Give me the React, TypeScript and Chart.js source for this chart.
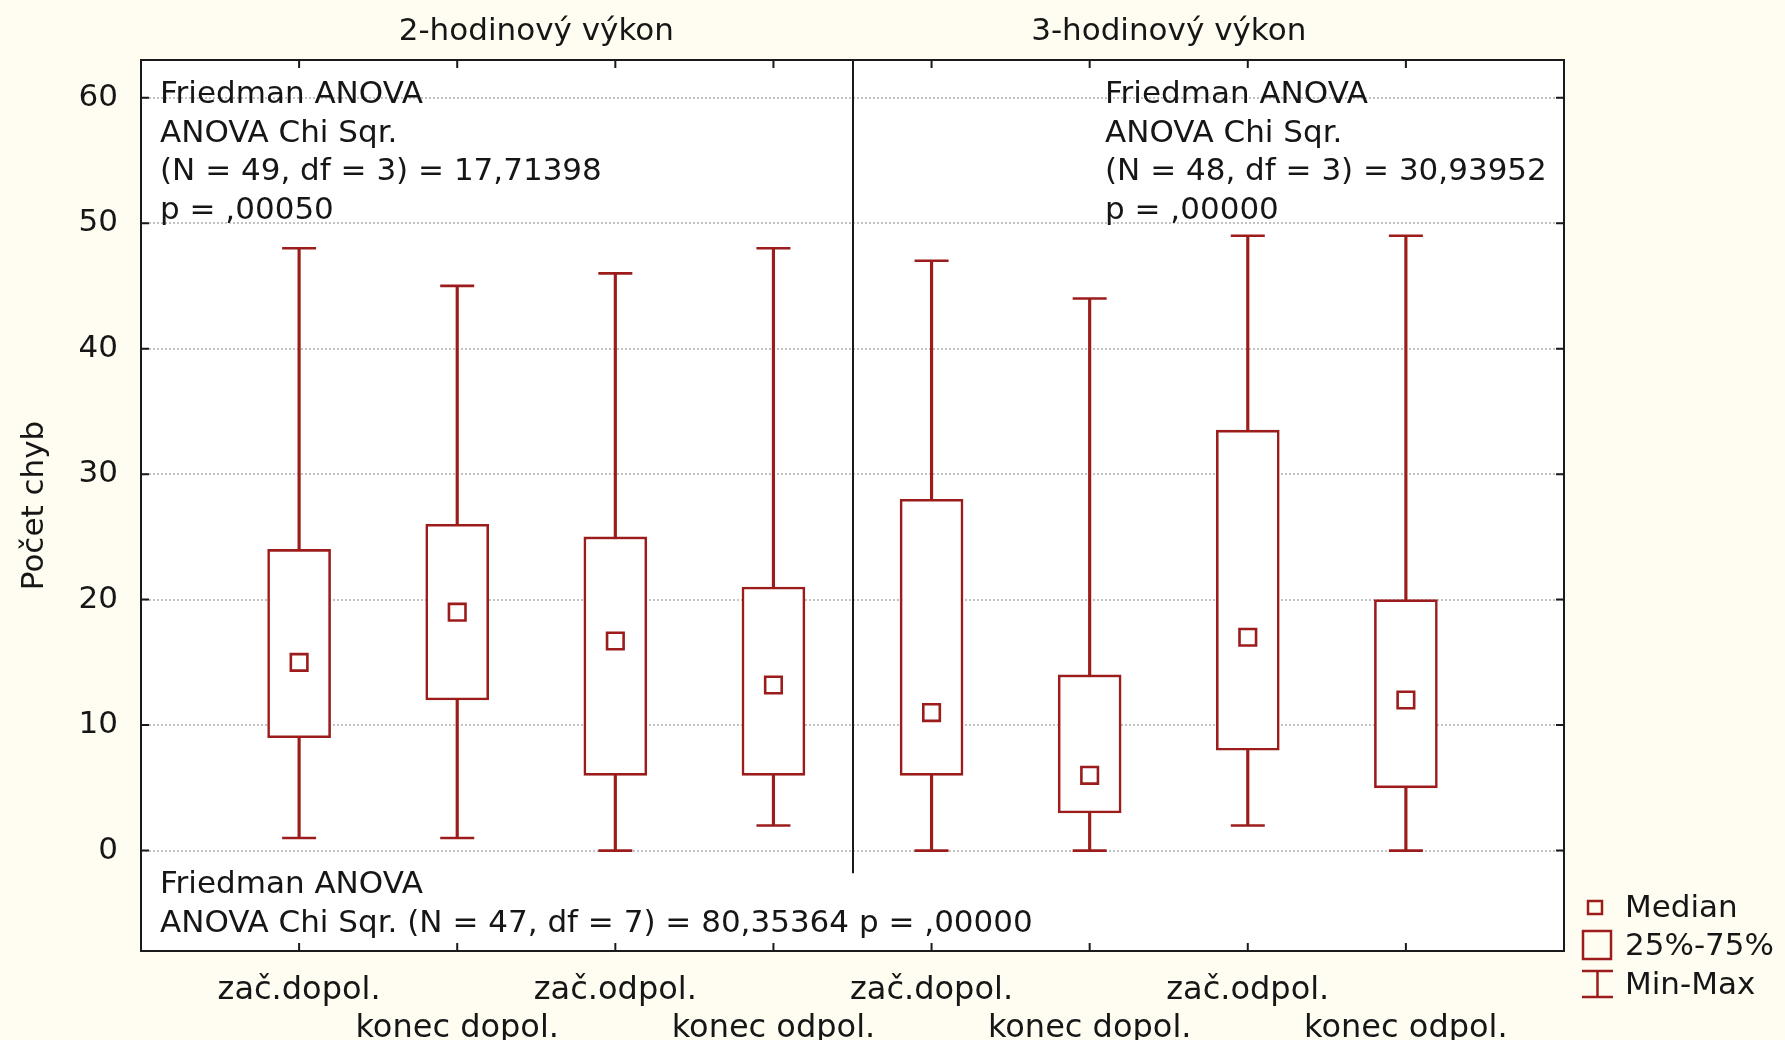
import React, { useEffect, useRef } from 'react';
import { Chart, registerables } from 'chart.js';

Chart.register(...registerables);

// ---- data ----
const categories = ['zač.dopol.', 'konec dopol.', 'zač.odpol.', 'konec odpol.', 'zač.dopol.', 'konec dopol.', 'zač.odpol.', 'konec odpol.'];
const groupTitles = ['2-hodinový výkon', '3-hodinový výkon'];
const minValues = [1, 1, 0, 2, 0, 0, 2, 0];
const q1Values = [9, 12, 6, 6, 6, 3, 8, 5];
const medianValues = [15, 19, 16.7, 13.2, 11, 6, 17, 12];
const q3Values = [24, 26, 25, 21, 28, 14, 33.5, 20];
const maxValues = [48, 45, 46, 48, 47, 44, 49, 49];
const yTicks = [0, 10, 20, 30, 40, 50, 60];
const yTitle = 'Počet chyb';
const statsLeft = ['Friedman ANOVA', 'ANOVA Chi Sqr.', '(N = 49, df = 3) = 17,71398', 'p = ,00050'];
const statsRight = ['Friedman ANOVA', 'ANOVA Chi Sqr.', '(N = 48, df = 3) = 30,93952', 'p = ,00000'];
const statsAll = ['Friedman ANOVA', 'ANOVA Chi Sqr. (N = 47, df = 7) = 80,35364 p = ,00000'];
const legendLabels = ['Median', '25%-75%', 'Min-Max'];

// ---- style ----
const RED = '#9c1c1c';
const TEXT = '#161616';
const FRAME = '#1a1a1a';
const BG = '#fffdf2';
const FONT = "'DejaVu Sans', sans-serif";

const overlayPlugin = {
  id: 'overlay',
  beforeDraw(chart: any) {
    const { ctx, chartArea: a } = chart;
    ctx.save();
    ctx.fillStyle = BG;
    ctx.fillRect(0, 0, chart.width, chart.height);
    ctx.fillStyle = '#ffffff';
    ctx.fillRect(a.left, a.top, a.right - a.left, a.bottom - a.top);
    ctx.restore();
  },
  afterDraw(chart: any) {
    const { ctx, chartArea: a, scales } = chart;
    const x = scales.x;
    const y = scales.y;
    ctx.save();
    // frame
    ctx.strokeStyle = FRAME;
    ctx.lineWidth = 2;
    ctx.strokeRect(a.left, a.top, a.right - a.left, a.bottom - a.top);
    // inward tick marks
    ctx.beginPath();
    yTicks.forEach((v) => {
      const py = y.getPixelForValue(v);
      ctx.moveTo(a.left, py);
      ctx.lineTo(a.left + 8, py);
      ctx.moveTo(a.right, py);
      ctx.lineTo(a.right - 8, py);
    });
    categories.forEach((_, i) => {
      const px = x.getPixelForValue(i + 1);
      ctx.moveTo(px, a.top);
      ctx.lineTo(px, a.top + 8);
      ctx.moveTo(px, a.bottom);
      ctx.lineTo(px, a.bottom - 8);
    });
    ctx.stroke();
    // group divider
    const dx = Math.round(x.getPixelForValue(4.5));
    ctx.beginPath();
    ctx.moveTo(dx, a.top);
    ctx.lineTo(dx, y.getPixelForValue(-1.8));
    ctx.stroke();

    // texts
    ctx.fillStyle = TEXT;
    ctx.font = `31px ${FONT}`;
    ctx.textBaseline = 'alphabetic';
    ctx.textAlign = 'center';
    ctx.fillText(groupTitles[0], x.getPixelForValue(2.5), 40);
    ctx.fillText(groupTitles[1], x.getPixelForValue(6.5), 40);

    ctx.textAlign = 'left';
    const lineY = [103, 141.5, 180, 218.5];
    statsLeft.forEach((t, i) => ctx.fillText(t, 160, lineY[i]));
    statsRight.forEach((t, i) => ctx.fillText(t, 1105, lineY[i]));
    const bottomY = [893, 931.5];
    statsAll.forEach((t, i) => ctx.fillText(t, 160, bottomY[i]));

    // legend
    ctx.strokeStyle = RED;
    ctx.lineWidth = 2.5;
    ctx.strokeRect(1588, 901, 14, 13);
    ctx.strokeRect(1583, 931, 28, 28);
    ctx.beginPath();
    ctx.moveTo(1582, 971); ctx.lineTo(1613, 971);
    ctx.moveTo(1597.5, 971); ctx.lineTo(1597.5, 997);
    ctx.moveTo(1582, 997); ctx.lineTo(1613, 997);
    ctx.stroke();
    ctx.fillStyle = TEXT;
    ctx.font = `31px ${FONT}`;
    const legY = [917, 955, 994];
    legendLabels.forEach((t, i) => ctx.fillText(t, 1625, legY[i]));
    ctx.restore();
  },
};

export default function App() {
  const canvasRef = useRef<HTMLCanvasElement | null>(null);

  useEffect(() => {
    document.body.style.margin = '0';
    document.body.style.overflow = 'hidden';
    const canvas = canvasRef.current;
    if (!canvas) return;
    Chart.defaults.font.family = FONT;

    const idx = categories.map((_, i) => i + 1);
    const chart = new Chart(canvas, {
      type: 'bar',
      data: {
        datasets: [
          {
            type: 'bar',
            label: 'whisker',
            data: idx.map((xv, i) => ({ x: xv, y: [minValues[i], maxValues[i]] })) as any,
            backgroundColor: RED,
            borderWidth: 0,
            barThickness: 2.5,
            grouped: false,
            order: 4,
          } as any,
          {
            type: 'bar',
            label: '25%-75%',
            data: idx.map((xv, i) => ({ x: xv, y: [q1Values[i], q3Values[i]] })) as any,
            backgroundColor: '#ffffff',
            borderColor: RED,
            borderWidth: 2.6,
            borderSkipped: false,
            barThickness: 63,
            grouped: false,
            order: 3,
          } as any,
          {
            type: 'scatter',
            label: 'Min-Max',
            data: [
              ...idx.map((xv, i) => ({ x: xv, y: minValues[i] })),
              ...idx.map((xv, i) => ({ x: xv, y: maxValues[i] })),
            ],
            pointStyle: 'line',
            pointRadius: 17,
            pointBorderWidth: 2.6,
            borderColor: RED,
            pointBorderColor: RED,
            showLine: false,
            order: 2,
          } as any,
          {
            type: 'scatter',
            label: 'Median',
            data: idx.map((xv, i) => ({ x: xv, y: medianValues[i] })),
            pointStyle: 'rect',
            pointRadius: 11.7,
            pointBorderWidth: 2.6,
            pointBorderColor: RED,
            pointBackgroundColor: '#ffffff',
            showLine: false,
            order: 1,
          } as any,
        ],
      },
      options: {
        responsive: false,
        animation: false,
        devicePixelRatio: 1,
        layout: { padding: { left: 0, right: 221, top: 60, bottom: 0 } },
        plugins: { legend: { display: false }, tooltip: { enabled: false } },
        scales: {
          x: {
            type: 'linear',
            min: 0,
            max: 9,
            offset: false,
            afterBuildTicks: (s: any) => {
              s.ticks = idx.map((v) => ({ value: v }));
            },
            afterFit: (s: any) => {
              s.height = 89;
            },
            grid: { display: false, drawTicks: false },
            border: { display: false },
            ticks: {
              padding: 20,
              autoSkip: false,
              maxRotation: 0,
              minRotation: 0,
              color: TEXT,
              font: { size: 32 },
              callback: (v: any) => {
                const i = Math.round(Number(v)) - 1;
                if (i < 0 || i >= categories.length) return '';
                return i % 2 === 0 ? [categories[i], ''] : ['', categories[i]];
              },
            },
          },
          y: {
            type: 'linear',
            min: -8,
            max: 63,
            afterBuildTicks: (s: any) => {
              s.ticks = yTicks.map((v) => ({ value: v }));
            },
            afterFit: (s: any) => {
              s.width = 141;
            },
            grid: { color: '#c2c2c2', lineWidth: 2, drawTicks: false },
            border: { display: false, dash: [2, 2] },
            ticks: { padding: 23, color: TEXT, font: { size: 31 } },
            title: {
              display: true,
              text: yTitle,
              color: TEXT,
              font: { size: 31 },
              padding: { top: 16, bottom: 0 },
            },
          },
        },
      } as any,
      plugins: [overlayPlugin],
    });
    return () => chart.destroy();
  }, []);

  return (
    <div style={{ width: 1785, height: 1040 }}>
      <canvas ref={canvasRef} width={1785} height={1040} style={{ display: 'block' }} />
    </div>
  );
}
